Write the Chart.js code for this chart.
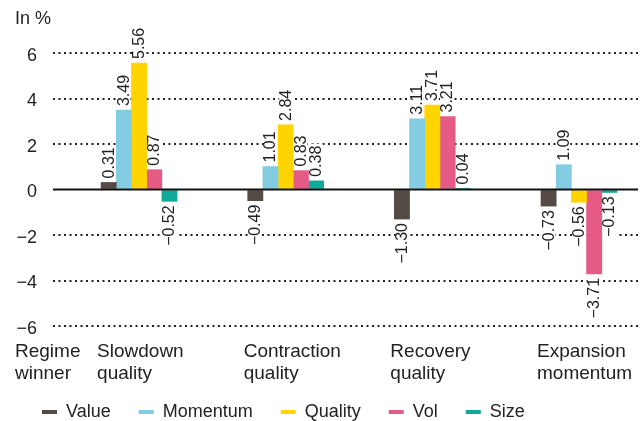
<!DOCTYPE html>
<html>
<head>
<meta charset="utf-8">
<title>Factor returns by regime</title>
<script src="https://cdn.jsdelivr.net/npm/chart.js@4/dist/chart.umd.min.js"></script>
<style>
  html, body { margin: 0; padding: 0; background: #fff; }
  canvas { display: block; }
</style>
</head>
<body>
<canvas id="chart-regimes" width="643" height="421"></canvas>
<script>
// regimes (two-line labels) and factor returns in %
var categories = [["Slowdown", "quality"], ["Contraction", "quality"], ["Recovery", "quality"], ["Expansion", "momentum"]];
var seriesNames = ["Value", "Momentum", "Quality", "Vol", "Size"];
var valueData = [0.31, -0.49, -1.3, -0.73];
var momentumData = [3.49, 1.01, 3.11, 1.09];
var qualityData = [5.56, 2.84, 3.71, -0.56];
var volData = [0.87, 0.83, 3.21, -3.71];
var sizeData = [-0.52, 0.38, 0.04, -0.13];
var yTicks = [-6, -4, -2, 0, 2, 4, 6];

var FONT = "'Liberation Sans', Arial, sans-serif";
var TEXT = "#222";
Chart.defaults.font.family = FONT;
Chart.defaults.color = TEXT;

function toPoints(values) {
  return values.map(function (v, i) {
    return { x: i, y: v };
  });
}

function fmt(v, digits) {
  return (digits ? v.toFixed(digits) : String(v)).replace("-", "\u2212");
}

var colors = ["#554b45", "#82cde2", "#ffd400", "#e65a86", "#13a99a"];
var allSeries = [valueData, momentumData, qualityData, volData, sizeData];

var datasets = allSeries.map(function (values, k) {
  return {
    label: seriesNames[k],
    data: toPoints(values),
    backgroundColor: colors[k],
    borderWidth: 0,
    barThickness: 15.2,
  };
});

// value labels (rotated, on a white patch), zero line, and the free text around the plot
var annotations = {
  id: "annotations",
  afterDatasetsDraw: function (chart) {
    var ctx = chart.ctx;
    var area = chart.chartArea;
    ctx.save();
    ctx.font = "16px " + FONT;
    ctx.textBaseline = "middle";
    ctx.textAlign = "left";
    chart.data.datasets.forEach(function (ds, di) {
      chart.getDatasetMeta(di).data.forEach(function (bar, i) {
        var v = ds.data[i].y;
        var text = fmt(v, 2);
        var w = ctx.measureText(text).width;
        var start = v >= 0 ? 4 : -4 - w;
        ctx.save();
        ctx.translate(bar.x, bar.y);
        ctx.rotate(-Math.PI / 2);
        ctx.fillStyle = "#fff";
        ctx.fillRect(start - 2, -6.5, w + 4, 13);
        ctx.fillStyle = TEXT;
        ctx.fillText(text, start, 0.5);
        ctx.restore();
      });
    });

    var y0 = chart.scales.y.getPixelForValue(0);
    ctx.strokeStyle = "#111";
    ctx.lineWidth = 2;
    ctx.beginPath();
    ctx.moveTo(area.left, y0);
    ctx.lineTo(area.right - 2, y0);
    ctx.stroke();
    ctx.restore();
  },
  afterDraw: function (chart) {
    var ctx = chart.ctx;
    var xs = chart.scales.x;
    ctx.save();
    ctx.font = "18px " + FONT;
    ctx.fillStyle = TEXT;
    ctx.textAlign = "left";
    ctx.textBaseline = "alphabetic";
    ctx.fillText("In %", 15, 24);
    ctx.font = "19px " + FONT;
    ctx.fillText("Regime", 15, 357);
    ctx.fillText("winner", 15, 379);
    categories.forEach(function (lines, i) {
      var x = xs.getPixelForValue(i) - 42;
      ctx.fillText(lines[0], x, 357);
      ctx.fillText(lines[1], x, 379);
    });
    ctx.restore();
  },
};

var ctx = document.getElementById("chart-regimes");
var regimeChart = new Chart(ctx, {
  type: "bar",
  data: { datasets: datasets },
  plugins: [annotations],
  options: {
    responsive: false,
    animation: false,
    layout: { padding: { top: 53, left: 14, right: 3, bottom: -10 } },
    scales: {
      x: {
        type: "linear",
        offset: false,
        min: -0.587,
        max: 3.416,
        grid: { display: false },
        border: { display: false },
        ticks: { display: false, stepSize: 1, includeBounds: false },
        afterFit: function (scale) {
          scale.height = 49;
        },
      },
      y: {
        min: -6,
        max: 6,
        afterBuildTicks: function (scale) {
          scale.ticks = yTicks.map(function (v) {
            return { value: v };
          });
        },
        grid: {
          drawTicks: false,
          lineWidth: 2,
          color: function (c) {
            return c.tick && c.tick.value === 0 ? "rgba(0,0,0,0)" : "#222";
          },
        },
        border: { display: false, dash: [2, 3.5] },
        ticks: {
          padding: 16,
          labelOffset: 3,
          font: { size: 18 },
          color: TEXT,
          callback: function (v) {
            return fmt(v);
          },
        },
        afterFit: function (scale) {
          scale.width = 39;
        },
      },
    },
    plugins: {
      title: { display: false },
      tooltip: { enabled: false },
      legend: {
        position: "bottom",
        align: "start",
        labels: {
          boxWidth: 15,
          boxHeight: 4,
          padding: 28,
          color: TEXT,
          font: { size: 18 },
        },
      },
    },
  },
});
</script>
</body>
</html>
